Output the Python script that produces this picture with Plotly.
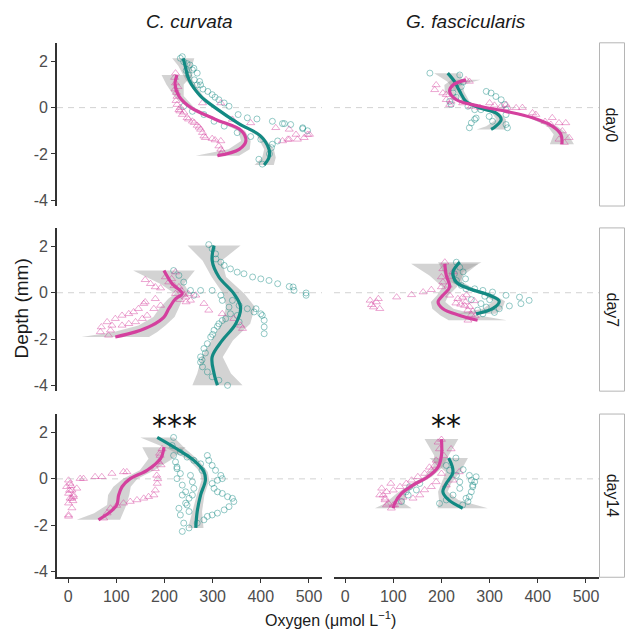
import plotly.graph_objects as go

# ---------------- labels / ticks ----------------
species = ["C. curvata", "G. fascicularis"]
days = ["day0", "day7", "day14"]
x_ticks = [0, 100, 200, 300, 400, 500]
x_ticklabels = ["0", "100", "200", "300", "400", "500"]
y_ticks = [-4, -2, 0, 2]
y_ticklabels = ["-4", "-2", "0", "2"]
signif_labels = ["***", "**"]
signif_x = [221, 209]
signif_y = [2.3, 2.3]

# ---------------- day0, C. curvata ----------------
d0_cc_teal_x = [237, 240, 253, 261, 268, 273, 275, 299, 313, 324, 334, 353, 372, 392, 424, 445, 462, 487, 497,
                233, 247, 258, 268, 245, 250, 262, 280, 290, 305,
                240, 258, 282, 303, 324, 351, 379, 400, 403, 396, 424, 435, 449, 487, 422, 418]
d0_cc_teal_y = [2.2, 1.98, 1.84, 1.7, 1.49, 1.13, 0.98, 0.56, 0.34, 0.2, 0.06, -0.3, -0.44, -0.49, -0.59, -0.69, -0.73, -0.87, -1.0,
                2.13, 1.9, 1.63, 0.98, 1.6, 1.4, 1.2, 0.8, 0.7, 0.45,
                0.06, -0.16, -0.3, -0.59, -0.8, -1.08, -1.25, -1.37, -2.44, -2.23, -1.58, -1.44, -0.69, -0.91, -1.73, -2.0]
d0_cc_pink_x = [223, 223, 226, 226, 230, 237, 247, 258, 268, 275, 279, 282, 299, 317, 313, 317,
                431, 456, 476, 490, 497, 459, 473, 501, 445, 459,
                279, 317, 341, 379, 221, 222, 224, 233, 240, 228, 225, 232, 250, 262, 272, 285, 305, 320, 318]
d0_cc_pink_y = [1.49, 1.06, 0.48, 0.13, -0.09, -0.3, -0.44, -0.59, -0.77, -0.94, -1.08, -1.23, -1.34, -1.44, -1.66, -1.8,
                -0.87, -1.37, -1.37, -1.3, -1.16, -0.94, -1.16, -1.16, -1.44, -1.37,
                0.2, 0.2, -0.51, -0.66, 1.3, 0.8, 0.3, 0.0, -0.2, 0.9, 0.65, -0.15, -0.5, -0.65, -0.85, -1.3, -1.4, -1.9, -2.0]
d0_cc_teal_depth = [2.13, 1.8, 1.2, 0.5, 0.0, -0.7, -1.2, -1.8, -2.15, -2.48]
d0_cc_teal_fit = [239, 243, 251, 275, 305, 355, 398, 417, 417, 407]
d0_cc_teal_ci = [23, 14, 7, 5, 5, 5, 6, 10, 14, 20]
d0_cc_pink_depth = [1.41, 1.0, 0.5, 0.0, -0.5, -1.0, -1.44, -1.8, -2.08]
d0_cc_pink_fit = [226, 222, 230, 255, 305, 360, 369, 355, 310]
d0_cc_pink_ci = [32, 18, 10, 7, 6, 7, 10, 22, 45]

# ---------------- day0, G. fascicularis ----------------
d0_gf_teal_x = [176, 238, 241, 224, 217, 220, 255, 269, 282, 293, 303, 313, 324, 331, 334, 334, 334, 337,
                262, 269, 272, 258, 306, 299, 230, 245]
d0_gf_teal_y = [1.49, 1.41, 0.91, 0.63, 0.27, 0.13, 0.06, -0.09, -0.09, 0.7, 0.63, 0.48, 0.34, 0.13, -0.09, -0.3, -0.73, -0.87,
                -0.66, -0.51, -0.45, -0.87, -0.59, -0.38, 0.45, 1.1]
d0_gf_pink_x = [189, 186, 203, 210, 220, 217, 244, 251, 258, 300, 324, 337, 334, 355, 368, 389, 396, 430, 427, 444,
                458, 451, 455, 444, 465, 210, 262, 280, 310, 415]
d0_gf_pink_y = [0.98, 0.77, 0.63, 0.34, 0.27, 0.13, 0.2, 1.2, 1.13, 0.2, 0.06, -0.01, 0.13, -0.01, 0.0, -0.23, -0.3, -0.44, -0.73, -0.66,
                -0.66, -1.01, -1.51, -1.37, -1.3, 0.56, 0.05, 0.0, 0.1, -0.6]
d0_gf_teal_depth = [1.49, 1.13, 0.7, 0.27, -0.01, -0.23, -0.51, -0.8, -0.94]
d0_gf_teal_fit = [213, 227, 238, 251, 279, 313, 324, 313, 303]
d0_gf_teal_ci = [28, 15, 9, 7, 7, 8, 10, 20, 30]
d0_gf_pink_depth = [1.2, 0.98, 0.7, 0.34, 0.06, -0.16, -0.44, -0.8, -1.16, -1.58]
d0_gf_pink_fit = [251, 224, 217, 231, 279, 334, 389, 430, 448, 450]
d0_gf_pink_ci = [30, 18, 10, 7, 6, 6, 7, 10, 15, 25]

# ---------------- day7, C. curvata ----------------
d7_cc_teal_x = [292, 299, 306, 307, 317, 324, 337, 351, 365, 383, 400, 417, 435, 459, 469, 494, 494,
                275, 299, 317, 320, 334, 337, 327, 313, 303, 296, 289, 282, 275, 275, 279, 289, 299, 313, 331,
                341, 355, 351, 355, 390, 400, 407, 407, 407, 372, 386, 403,
                219, 230, 240, 254, 261, 467, 285, 278, 300, 310, 320]
d7_cc_teal_y = [2.08, 1.9, 1.68, 1.46, 1.32, 1.18, 1.03, 0.89, 0.82, 0.68, 0.6, 0.53, 0.39, 0.27, 0.1, -0.01, -0.11,
                0.1, 0.1, -0.11, -0.33, -0.62, -0.91, -1.12, -1.34, -1.62, -1.91, -2.2, -2.41, -2.77, -3.0, -3.2, -3.42, -3.63, -3.78, -4.0,
                -0.33, -0.55, -0.98, -1.26, -0.69, -0.91, -1.19, -1.48, -1.77, -0.69, -0.83, -0.98,
                0.96, 0.75, 0.46, 0.1, -0.11, 0.25, -2.6, -2.9, -1.8, -1.45, -1.2]
d7_cc_pink_x = [160, 171, 181, 192, 67, 69, 81, 88, 98, 112, 126, 136, 146, 157, 160, 181,
                112, 126, 140, 154, 164, 178, 192, 84, 91,
                202, 209, 223, 244, 254, 265, 282, 292, 320, 344, 362, 358, 223, 230,
                215, 220, 235, 240, 250, 245, 232]
d7_cc_pink_y = [0.56, 0.39, 0.25, 0.2, -1.69, -1.48, -1.26, -1.62, -1.12, -0.98, -0.91, -0.83, -0.69, -0.47, -0.4, -0.26,
                -1.41, -1.34, -1.26, -1.12, -0.98, -0.69, -0.55, -1.84, -1.41,
                0.68, 0.46, -0.04, -0.19, -0.33, -0.11, -0.47, -0.76, -0.91, -1.12, -1.55, -1.41, 0.89, 0.25,
                0.6, 0.3, 0.1, -0.1, -0.05, -0.4, -0.3]
d7_cc_teal_depth = [2.04, 1.39, 0.68, -0.04, -0.62, -1.34, -2.06, -2.77, -3.49, -4.0]
d7_cc_teal_fit = [303, 299, 313, 344, 358, 348, 320, 299, 303, 310]
d7_cc_teal_ci = [55, 20, 15, 22, 30, 30, 22, 22, 35, 52]
d7_cc_pink_depth = [0.96, 0.39, -0.04, -0.26, -0.69, -1.05, -1.41, -1.69, -1.91]
d7_cc_pink_fit = [199, 216, 237, 223, 209, 199, 174, 140, 98]
d7_cc_pink_ci = [64, 25, 15, 15, 20, 22, 28, 45, 70]

# ---------------- day7, G. fascicularis ----------------
d7_gf_teal_x = [231, 238, 227, 231, 241, 251, 269, 286, 306, 334, 362, 382, 365, 341, 320, 293, 282, 286,
                245, 262, 275, 300, 310, 250, 290]
d7_gf_teal_y = [1.32, 1.1, 0.82, 0.53, 0.32, 0.17, 0.17, 0.1, 0.03, -0.11, -0.19, -0.33, -0.47, -0.57, -0.69, -0.62, -0.47, -0.91,
                0.9, -0.3, -0.75, -0.3, -0.85, 0.6, -0.15]
d7_gf_pink_x = [52, 55, 59, 69, 72, 107, 138, 162, 179, 200, 207, 203, 200, 203, 217, 234, 255, 214,
                244, 250, 258, 265, 270, 248, 255, 262, 268, 252, 240, 230, 65, 224, 220]
d7_gf_pink_y = [-0.33, -0.52, -0.62, -0.26, -0.69, -0.19, -0.09, 0.03, 0.13, 0.25, 1.32, 1.03, 0.68, 0.46, -0.11, -0.26, -1.19, 0.32,
                -0.2, -0.4, -0.6, -0.8, -1.0, -0.55, -0.75, -0.95, -0.35, -0.1, -0.5, -0.45, -0.4, 0.9, 0.7]
d7_gf_teal_depth = [1.32, 0.89, 0.46, 0.17, -0.11, -0.37, -0.69, -0.91]
d7_gf_teal_fit = [238, 224, 231, 258, 300, 320, 306, 272]
d7_gf_teal_ci = [45, 20, 12, 10, 10, 12, 20, 40]
d7_gf_pink_depth = [1.25, 0.75, 0.25, -0.11, -0.4, -0.69, -0.98, -1.19]
d7_gf_pink_fit = [207, 210, 217, 203, 193, 203, 238, 275]
d7_gf_pink_ci = [70, 35, 15, 12, 15, 22, 40, 60]

# ---------------- day14, C. curvata ----------------
d14_cc_teal_x = [219, 216, 219, 223, 226, 233, 226, 237, 244, 251, 244, 230, 233, 240, 251,
                 233, 247, 261, 275, 278,
                 289, 292, 299, 306, 317, 320, 310, 299, 303, 310, 320, 331, 341, 344, 334, 324, 310, 299, 289, 282, 268,
                 254, 258, 261, 258, 247, 251, 237, 226, 237]
d14_cc_teal_y = [1.79, 1.44, 1.01, 0.73, 0.51, 0.23, 0.01, -0.27, -0.56, -0.84, -1.05, -1.27, -1.56, -1.91, -2.12,
                 1.15, 0.94, 0.8, 0.65, 0.37,
                 1.01, 0.8, 0.58, 0.37, 0.15, 0.01, -0.06, -0.2, -0.41, -0.56, -0.63, -0.77, -0.84, -0.98, -1.2, -1.34, -1.48, -1.56, -1.62, -1.77, -1.91,
                 0.15, -0.13, -0.41, -0.7, -1.13, -1.41, -0.7, 0.44, -2.27]
d14_cc_pink_x = [1, 4, -3, 8, 1, 11, 4, 1, 8, 1, 32, 56, 70, 91, 115, 122,
                 195, 191, 188, 181, 184, 185, 181, 178, 167, 157, 143, 129, 115, 101, 88, 81, 74,
                 18, 25, 1, 8, 11, 6, 3, 10, 190, 193, 186]
d14_cc_pink_y = [-0.06, -0.2, -0.34, -0.49, -0.63, -0.7, -0.84, -1.05, -1.26, -1.62, 0.01, 0.09, 0.09, 0.23, 0.3, 0.3,
                 1.29, 1.01, 0.73, 0.44, 0.15, -0.2, -0.49, -0.7, -0.77, -0.84, -0.91, -0.98, -1.05, -1.15, -1.27, -1.48, -1.7,
                 -0.41, 0.01, -1.56, -0.84, -0.77, -0.3, -0.5, -0.95, 1.1, 0.6, 0.0]
d14_cc_teal_depth = [1.79, 1.29, 0.8, 0.3, -0.06, -0.7, -1.41, -2.12]
d14_cc_teal_fit = [185, 226, 261, 282, 285, 275, 268, 265]
d14_cc_teal_ci = [35, 18, 10, 8, 8, 8, 10, 16]
d14_cc_pink_depth = [1.37, 0.87, 0.37, 0.01, -0.34, -0.7, -1.13, -1.48, -1.77]
d14_cc_pink_fit = [199, 192, 164, 129, 112, 105, 101, 84, 63]
d14_cc_pink_ci = [45, 25, 15, 15, 18, 22, 20, 30, 45]

# ---------------- day14, G. fascicularis ----------------
d14_gf_teal_x = [258, 262, 272, 269, 265, 262, 258, 255, 265, 251, 244,
                 210, 217, 231, 238, 238, 224, 210, 196, 155, 148, 131, 117, 134, 127, 230, 245]
d14_gf_teal_y = [0.15, -0.06, 0.09, -0.13, -0.34, -0.56, -0.77, -0.98, -0.27, -0.84, -1.13,
                 0.58, 0.37, 0.15, -0.13, -0.41, -0.7, -0.91, -1.06, -0.2, -0.48, -0.7, -0.98, -0.34, -0.56, 0.9, 0.4]
d14_gf_pink_x = [193, 196, 189, 186, 179, 165, 151, 138, 127, 114, 100, 86, 79, 83, 90, 100,
                 189, 179, 165, 155, 141, 200, 224, 210, 237, 220, 76, 72, 83, 86, 96, 103,
                 200, 205, 175, 120, 110, 95]
d14_gf_pink_y = [1.58, 1.29, 0.8, 0.58, 0.37, 0.23, 0.09, -0.06, -0.2, -0.34, -0.49, -0.56, -0.7, -0.91, -1.06, -1.13,
                 -0.13, -0.34, -0.48, -0.7, -0.84, 0.23, -0.06, -0.27, 0.3, 1.29, -0.41, -0.7, -0.84, -1.13, -1.27, -1.13,
                 1.7, 1.0, 0.5, -0.8, -1.0, -0.2]
d14_gf_teal_depth = [0.9, 0.3, -0.2, -0.56, -0.91, -1.27]
d14_gf_teal_fit = [215, 224, 210, 203, 215, 244]
d14_gf_teal_ci = [40, 15, 10, 10, 20, 52]
d14_gf_pink_depth = [1.72, 1.01, 0.51, 0.09, -0.27, -0.63, -1.06, -1.27]
d14_gf_pink_fit = [200, 200, 193, 172, 141, 117, 103, 100]
d14_gf_pink_ci = [35, 15, 10, 8, 8, 10, 20, 38]

# ---------------- assemble panels ----------------
panels = [
    (d0_cc_teal_x, d0_cc_teal_y, d0_cc_pink_x, d0_cc_pink_y,
     (d0_cc_teal_depth, d0_cc_teal_fit, d0_cc_teal_ci), (d0_cc_pink_depth, d0_cc_pink_fit, d0_cc_pink_ci)),
    (d0_gf_teal_x, d0_gf_teal_y, d0_gf_pink_x, d0_gf_pink_y,
     (d0_gf_teal_depth, d0_gf_teal_fit, d0_gf_teal_ci), (d0_gf_pink_depth, d0_gf_pink_fit, d0_gf_pink_ci)),
    (d7_cc_teal_x, d7_cc_teal_y, d7_cc_pink_x, d7_cc_pink_y,
     (d7_cc_teal_depth, d7_cc_teal_fit, d7_cc_teal_ci), (d7_cc_pink_depth, d7_cc_pink_fit, d7_cc_pink_ci)),
    (d7_gf_teal_x, d7_gf_teal_y, d7_gf_pink_x, d7_gf_pink_y,
     (d7_gf_teal_depth, d7_gf_teal_fit, d7_gf_teal_ci), (d7_gf_pink_depth, d7_gf_pink_fit, d7_gf_pink_ci)),
    (d14_cc_teal_x, d14_cc_teal_y, d14_cc_pink_x, d14_cc_pink_y,
     (d14_cc_teal_depth, d14_cc_teal_fit, d14_cc_teal_ci), (d14_cc_pink_depth, d14_cc_pink_fit, d14_cc_pink_ci)),
    (d14_gf_teal_x, d14_gf_teal_y, d14_gf_pink_x, d14_gf_pink_y,
     (d14_gf_teal_depth, d14_gf_teal_fit, d14_gf_teal_ci), (d14_gf_pink_depth, d14_gf_pink_fit, d14_gf_pink_ci)),
]

W, H = 625, 636
FONT = "Liberation Sans, Arial, sans-serif"
TEAL = "#138a83"
PINK = "#d4409e"
TEAL_PT = "rgba(19,138,131,0.45)"
PINK_PT = "rgba(212,64,158,0.45)"
RIBBON = "rgba(150,150,150,0.42)"
AXIS_COL = "#333333"

col_px = [(57, 322), (334, 599)]
row_px = [(43, 207), (229, 393), (416, 580)]
XR = [-23, 527]
YR = [-4.25, 2.8]

fig = go.Figure()
layout = dict(width=W, height=H, margin=dict(l=0, r=0, t=0, b=0),
              paper_bgcolor="white", plot_bgcolor="white", showlegend=False,
              font=dict(family=FONT, color="#1a1a1a"))
shapes, annotations = [], []

for i, (tx, ty, px_, py_, tsm, psm) in enumerate(panels):
    r, c = divmod(i, 2)
    n = i + 1
    xa = "x" if n == 1 else f"x{n}"
    ya = "y" if n == 1 else f"y{n}"
    xkey = "xaxis" if n == 1 else f"xaxis{n}"
    ykey = "yaxis" if n == 1 else f"yaxis{n}"
    x0p, x1p = col_px[c]
    y0p, y1p = row_px[r]
    layout[xkey] = dict(domain=[x0p / W, x1p / W], range=XR, anchor=ya,
                        showgrid=False, zeroline=False,
                        showline=(r == 2), linecolor=AXIS_COL, linewidth=1.6,
                        ticks="outside" if r == 2 else "", ticklen=4, tickcolor=AXIS_COL, tickwidth=1.4,
                        showticklabels=(r == 2), tickvals=x_ticks, ticktext=x_ticklabels,
                        tickfont=dict(family=FONT, size=16, color="#4d4d4d"))
    layout[ykey] = dict(domain=[1 - y1p / H, 1 - y0p / H], range=YR, anchor=xa,
                        showgrid=False, zeroline=False,
                        showline=(c == 0), linecolor=AXIS_COL, linewidth=1.6,
                        ticks="outside" if c == 0 else "", ticklen=4, tickcolor=AXIS_COL, tickwidth=1.4,
                        showticklabels=(c == 0), tickvals=y_ticks, ticktext=y_ticklabels,
                        tickfont=dict(family=FONT, size=16, color="#4d4d4d"))
    # zero reference line
    shapes.append(dict(type="line", xref=f"{xa} domain", yref=ya, x0=0, x1=1, y0=0, y1=0,
                       line=dict(color="#d2d2d2", width=1, dash="6px,5px"), layer="below"))
    # ribbons
    for (dep, fit, ci) in (tsm, psm):
        hi = [f + e for f, e in zip(fit, ci)]
        lo = [f - e for f, e in zip(fit, ci)]
        fig.add_trace(go.Scatter(x=hi + lo[::-1], y=dep + dep[::-1], xaxis=xa, yaxis=ya,
                                 fill="toself", fillcolor=RIBBON, line=dict(width=0),
                                 mode="lines", hoverinfo="skip"))
    # points
    fig.add_trace(go.Scatter(x=tx, y=ty, xaxis=xa, yaxis=ya, mode="markers",
                             marker=dict(symbol="circle-open", size=6, color=TEAL_PT, line=dict(width=1))))
    fig.add_trace(go.Scatter(x=px_, y=py_, xaxis=xa, yaxis=ya, mode="markers",
                             marker=dict(symbol="triangle-up-open", size=7, color=PINK_PT, line=dict(width=1))))
    # smooth lines
    for (dep, fit, ci), colr in ((tsm, TEAL), (psm, PINK)):
        fig.add_trace(go.Scatter(x=fit, y=dep, xaxis=xa, yaxis=ya, mode="lines",
                                 line=dict(color=colr, width=3.2, shape="spline", smoothing=1.0)))

# right-hand strips
for r, d in enumerate(days):
    y0p, y1p = row_px[r]
    shapes.append(dict(type="rect", xref="paper", yref="paper", x0=599.5 / W, x1=624.5 / W,
                       y0=1 - y1p / H, y1=1 - y0p / H, line=dict(color="#b5b5b5", width=1),
                       fillcolor="white", layer="below"))
    annotations.append(dict(text=d, xref="paper", yref="paper", x=612 / W, y=1 - (y0p + y1p) / 2 / H,
                            textangle=90, showarrow=False, font=dict(family=FONT, size=16, color="#1a1a1a"),
                            xanchor="center", yanchor="middle"))

# column titles
for c, s in enumerate(species):
    x0p, x1p = col_px[c]
    annotations.append(dict(text=f"<i>{s}</i>", xref="paper", yref="paper", x=(x0p + x1p) / 2 / W,
                            y=1 - 22 / H, showarrow=False, font=dict(family=FONT, size=19, color="#1a1a1a"),
                            xanchor="center", yanchor="middle"))

# significance stars (day14)
for c in range(2):
    n = 5 + c
    annotations.append(dict(text=signif_labels[c], xref=f"x{n}", yref=f"y{n}", x=signif_x[c], y=signif_y[c],
                            showarrow=False, font=dict(family="DejaVu Sans, sans-serif", size=30, color="#111111"),
                            xanchor="center", yanchor="middle"))

# axis titles
annotations.append(dict(text="Depth (mm)", xref="paper", yref="paper", x=22 / W, y=1 - 310 / H,
                        textangle=-90, showarrow=False, font=dict(family=FONT, size=19, color="#1a1a1a"),
                        xanchor="center", yanchor="middle"))
annotations.append(dict(text="Oxygen (\u03bcmol L<sup>\u22121</sup>)", xref="paper", yref="paper",
                        x=330 / W, y=1 - 622 / H, showarrow=False,
                        font=dict(family=FONT, size=16, color="#1a1a1a"),
                        xanchor="center", yanchor="middle"))

layout["shapes"] = shapes
layout["annotations"] = annotations
fig.update_layout(**layout)
fig.write_html("out.html")
